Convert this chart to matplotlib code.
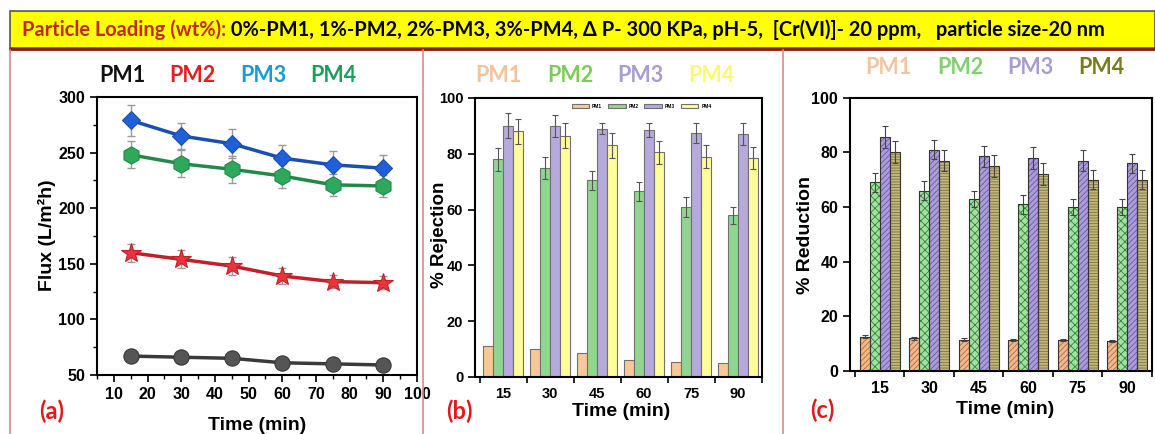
import numpy as np
import matplotlib
matplotlib.use("Agg")
import matplotlib.pyplot as plt
from matplotlib.patches import Rectangle
from matplotlib.lines import Line2D
from matplotlib.ticker import MultipleLocator, FixedLocator

# ---------------- data ----------------
time_min = [15, 30, 45, 60, 75, 90]
series = ["PM1", "PM2", "PM3", "PM4"]

flux_pm1 = [67, 66, 65, 61, 60, 59]
flux_pm2 = [160, 154, 148, 139, 134, 133]
flux_pm3 = [279, 265, 258, 245, 239, 236]
flux_pm4 = [248, 240, 235, 229, 221, 220]
flux_err_pm1 = [2, 2, 2, 2, 2, 2]
flux_err_pm2 = [8, 8, 8, 7, 6, 6]
flux_err_pm3 = [14, 12, 13, 12, 12, 12]
flux_err_pm4 = [12, 12, 12, 11, 10, 10]

rej_pm1 = [11, 10, 8.5, 6, 5.5, 5]
rej_pm2 = [78, 75, 70.5, 66.5, 61, 58]
rej_pm3 = [90, 90, 89, 88.5, 87.5, 87]
rej_pm4 = [88, 86.5, 83, 80.5, 79, 78.5]
rej_err_pm2 = [4, 4, 3.5, 3.5, 3.5, 3]
rej_err_pm3 = [4.5, 4, 2, 2.5, 3.5, 4]
rej_err_pm4 = [4.5, 4.5, 4.5, 4, 4, 4]

red_pm1 = [12.5, 12, 11.5, 11.3, 11.3, 11]
red_pm2 = [69, 66, 63, 61, 60, 60]
red_pm3 = [85.5, 81, 78.5, 78, 77, 76]
red_pm4 = [80, 77, 75, 72, 70, 70]
red_err_pm1 = [0.5, 0.5, 0.5, 0.5, 0.5, 0.5]
red_err_pm2 = [3.5, 3.5, 3, 3.5, 3, 3]
red_err_pm3 = [4, 3.5, 4, 4, 4, 3.5]
red_err_pm4 = [4, 4, 4, 4, 3.5, 3.5]

banner_head = "Particle Loading (wt%):"
banner_tail = " 0%-PM1, 1%-PM2, 2%-PM3, 3%-PM4, \u0394 P- 300 KPa, pH-5,  [Cr(VI)]- 20 ppm,   particle size-20 nm"

# ---------------- layout helpers ----------------
W, H = 1155, 434
plt.rcParams["font.family"] = ["Liberation Sans", "DejaVu Sans"]
plt.rcParams["font.weight"] = "bold"
plt.rcParams["hatch.linewidth"] = 0.6

fig = plt.figure(figsize=(W / 100, H / 100), dpi=100)


def fx(x):
    return x / W


def fy(y):
    return 1 - y / H


def ax_rect(l, t, r, b):
    return [fx(l), fy(b), (r - l) / W, (b - t) / H]


title_font = ["Lato", "DejaVu Sans"]

# ---------------- banner and panel frames ----------------
fig.patches.append(Rectangle((fx(10), fy(48)), (W - 10) / W, 37 / H,
                             transform=fig.transFigure, facecolor="#ffff00",
                             edgecolor="#555555", linewidth=1.2, zorder=0))
fig.add_artist(Line2D([fx(10), 1], [fy(48.5), fy(48.5)], transform=fig.transFigure,
                      color="#8b1a10", linewidth=2))
frame_c = "#d98a8e"
for xv in (10, 423, 783):
    fig.add_artist(Line2D([fx(xv), fx(xv)], [fy(50), 0], transform=fig.transFigure,
                          color=frame_c, linewidth=1.2))

# banner text, sized so the full line spans the yellow strip
banner_size = 12.5
t1 = fig.text(fx(22), fy(30), banner_head, color="#c02a18", fontsize=banner_size,
              family=title_font, weight="bold", va="center", ha="left")
t2 = fig.text(fx(22), fy(30), banner_tail, color="black", fontsize=banner_size,
              family=title_font, weight="bold", va="center", ha="left")
fig.canvas.draw()
total = t1.get_window_extent().width + t2.get_window_extent().width
banner_size *= 1080 / total
t1.set_fontsize(banner_size)
t2.set_fontsize(banner_size)
fig.canvas.draw()
t2.set_x((22 + t1.get_window_extent().width) / W)

tick_kw = dict(labelsize=11.5, width=1.2)

# ---------------- (a) flux ----------------
axa = fig.add_axes(ax_rect(97, 97, 417, 375))
line_specs = [
    (flux_pm1, flux_err_pm1, "o", "#555555", "#3a3a3a", 11),
    (flux_pm2, flux_err_pm2, "*", "#e8343a", "#c02028", 15),
    (flux_pm3, flux_err_pm3, "D", "#1f60d8", "#1a4fb0", 9.5),
    (flux_pm4, flux_err_pm4, "h", "#2ea85a", "#22894a", 12.5),
]
for vals, err, mk, col, lc, ms in line_specs:
    axa.errorbar(time_min, vals, yerr=err, fmt="none", ecolor="#9a9a9a",
                 elinewidth=1, capsize=3, zorder=2)
    axa.plot(time_min, vals, color=lc, linewidth=2.5, zorder=3)
    axa.plot(time_min, vals, linestyle="none", marker=mk, markersize=ms,
             markerfacecolor=col, markeredgecolor=lc, markeredgewidth=0.8, zorder=4)
axa.set_xlim(5, 100)
axa.set_ylim(50, 300)
axa.xaxis.set_major_locator(MultipleLocator(10))
axa.xaxis.set_minor_locator(MultipleLocator(5))
axa.yaxis.set_major_locator(MultipleLocator(50))
axa.yaxis.set_minor_locator(MultipleLocator(25))
axa.tick_params(which="major", direction="out", length=5, **tick_kw)
axa.tick_params(which="minor", direction="out", length=3, width=1)
for s in axa.spines.values():
    s.set_linewidth(1.5)
axa.set_xticks([10, 20, 30, 40, 50, 60, 70, 80, 90, 100])

for name, col, x in zip(series, ["#111111", "#e32020", "#1a9ad6", "#1aa05a"], [122, 192, 263, 333]):
    fig.text(fx(x), fy(75), name, color=col, fontsize=15.5, family=title_font,
             weight="bold", ha="center", va="center")
fig.text(fx(47), fy(235), "Flux (L/m\u00b2h)", rotation=90, fontsize=14,
         weight="bold", ha="center", va="center")
fig.text(fx(257), fy(426), "Time (min)", fontsize=14, weight="bold", ha="center", va="center")
fig.text(fx(52), fy(411), "(a)", color="#e01a1a", fontsize=17, family=title_font,
         weight="bold", ha="center", va="center")

# ---------------- (b) rejection ----------------
idx = np.arange(len(time_min))


def category_axis(ax, xl, size):
    ax.set_xlim(*xl)
    ax.set_ylim(0, 100)
    ax.xaxis.set_major_locator(FixedLocator(idx))
    ax.set_xticklabels([str(t) for t in time_min])
    ax.xaxis.set_minor_locator(FixedLocator(np.arange(-0.5, len(idx), 1.0)))
    ax.yaxis.set_major_locator(MultipleLocator(20))
    ax.tick_params(axis="x", which="major", length=0, pad=7, labelsize=size, width=1.2)
    ax.tick_params(axis="x", which="minor", direction="out", length=4, width=1.2)
    ax.tick_params(axis="y", which="major", direction="out", length=5, labelsize=size, width=1.2)
    for s in ax.spines.values():
        s.set_linewidth(1.5)


axb = fig.add_axes(ax_rect(475, 98, 762, 377))
wb = 0.213
rej_cols = ["#f8c896", "#90d690", "#b6aadc", "#fdfd9a"]
rej_vals = [rej_pm1, rej_pm2, rej_pm3, rej_pm4]
rej_errs = [None, rej_err_pm2, rej_err_pm3, rej_err_pm4]
for k, (vals, err, col) in enumerate(zip(rej_vals, rej_errs, rej_cols)):
    xs = idx + (k - 1.5) * wb
    axb.bar(xs, vals, width=wb, color=col, edgecolor="#707070", linewidth=0.8,
            label=series[k], zorder=2)
    if err is not None:
        axb.errorbar(xs, vals, yerr=err, fmt="none", ecolor="#555555",
                     elinewidth=0.8, capsize=2, capthick=0.8, zorder=3)
category_axis(axb, (-0.6, 5.51), 10.5)
axb.legend(loc="center", bbox_to_anchor=(0.58, 0.97), ncol=4, fontsize=3.5,
           frameon=False, handlelength=3.6, handleheight=1.0, columnspacing=1.2,
           handletextpad=0.6)

for name, col, x in zip(series, ["#f5c29a", "#7ccc5a", "#a99cd0", "#fafa70"], [498, 570, 640, 711]):
    fig.text(fx(x), fy(75), name, color=col, fontsize=15.5, family=title_font,
             weight="bold", ha="center", va="center")
fig.text(fx(440), fy(235), "% Rejection", rotation=90, fontsize=13.5,
         weight="bold", ha="center", va="center")
fig.text(fx(621), fy(412), "Time (min)", fontsize=14,
         weight="bold", ha="center", va="center")
fig.text(fx(459), fy(411), "(b)", color="#e01a1a", fontsize=17, family=title_font,
         weight="bold", ha="center", va="center")

# ---------------- (c) reduction ----------------
axc = fig.add_axes(ax_rect(850, 97.7, 1152, 371))
wc = 0.2
red_faces = ["#f0b88c", "#a6e0a0", "#ac9cd8", "#c0b67e"]
red_hatch_cols = ["#b06a3c", "#2c8a3c", "#6a58a8", "#7e7640"]
red_hatches = ["//////", "xxxx", "//////", "------"]
red_vals = [red_pm1, red_pm2, red_pm3, red_pm4]
red_errs = [red_err_pm1, red_err_pm2, red_err_pm3, red_err_pm4]
for k in range(4):
    xs = idx + (k - 1.5) * wc
    axc.bar(xs, red_vals[k], width=wc, color=red_faces[k], edgecolor=red_hatch_cols[k],
            hatch=red_hatches[k], linewidth=0, zorder=2)
    axc.bar(xs, red_vals[k], width=wc, fill=False, edgecolor="#333333",
            linewidth=0.8, zorder=3)
    axc.errorbar(xs, red_vals[k], yerr=red_errs[k], fmt="none", ecolor="#444444",
                 elinewidth=0.8, capsize=2, capthick=0.8, zorder=4)
category_axis(axc, (-0.6, 5.5), 11.5)

for name, col, x in zip(series, ["#f2c4a0", "#80d070", "#a99bd3", "#7a7a1e"], [888, 960, 1030, 1101]):
    fig.text(fx(x), fy(68), name, color=col, fontsize=15.5, family=title_font,
             weight="bold", ha="center", va="center")
fig.text(fx(805), fy(235), "% Reduction", rotation=90, fontsize=14,
         weight="bold", ha="center", va="center")
fig.text(fx(1005), fy(410), "Time (min)", fontsize=14, weight="bold", ha="center", va="center")
fig.text(fx(822), fy(410), "(c)", color="#e01a1a", fontsize=17, family=title_font,
         weight="bold", ha="center", va="center")

fig.savefig("out.png", dpi=100)
